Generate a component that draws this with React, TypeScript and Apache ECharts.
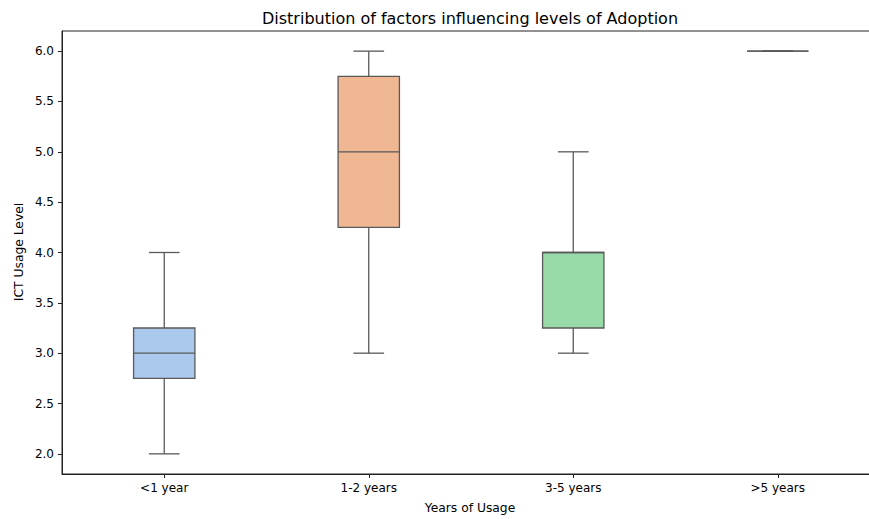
import React, { useEffect, useRef } from "react";
import * as echarts from "echarts";

const categories = ["<1 year", "1-2 years", "3-5 years", ">5 years"];
// [min, Q1, median, Q3, max]
const mins = [2.0, 3.0, 3.0, 6.0];
const q1s = [2.75, 4.25, 3.25, 6.0];
const medians = [3.0, 5.0, 4.0, 6.0];
const q3s = [3.25, 5.75, 4.0, 6.0];
const maxs = [4.0, 6.0, 5.0, 6.0];
const yTicks = [2.0, 2.5, 3.0, 3.5, 4.0, 4.5, 5.0, 5.5, 6.0];

const boxColors = ["#abc9ed", "#f0b793", "#98dba9", "#f2a9a6"];
const lineColor = "#595959";
const axisColor = "#222222";
const FONT = "DejaVu Sans";

export default function App() {
  const ref = useRef<HTMLDivElement>(null);
  useEffect(() => {
    if (!ref.current) return;
    const chart = echarts.init(ref.current, null, { renderer: "svg" });
    const data = categories.map((_, i) => [i, mins[i], q1s[i], medians[i], q3s[i], maxs[i]]);
    chart.setOption({
      animation: false,
      backgroundColor: "#ffffff",
      textStyle: { fontFamily: FONT },
      grid: {
        left: 62,
        top: 31,
        width: 818,
        height: 443,
        outerBoundsMode: "none",
        containLabel: false,
        show: true,
        borderColor: axisColor,
        borderWidth: 1,
        backgroundColor: "transparent",
      },
      graphic: [
        {
          type: "text",
          x: 470,
          y: 18,
          style: {
            text: "Distribution of factors influencing levels of Adoption",
            font: `16px "${FONT}"`,
            fill: "#000",
            textAlign: "center",
            textVerticalAlign: "middle",
          },
        },
        {
          type: "text",
          x: 470,
          y: 508,
          style: {
            text: "Years of Usage",
            font: `12.3px "${FONT}"`,
            fill: "#000",
            textAlign: "center",
            textVerticalAlign: "middle",
          },
        },
        {
          type: "text",
          x: 19,
          y: 252,
          rotation: Math.PI / 2,
          style: {
            text: "ICT Usage Level",
            font: `12.3px "${FONT}"`,
            fill: "#000",
            textAlign: "center",
            textVerticalAlign: "middle",
          },
        },
      ],
      xAxis: {
        type: "category",
        data: categories,
        boundaryGap: true,
        axisLine: { show: true, lineStyle: { color: axisColor, width: 1 } },
        axisTick: { show: true, alignWithLabel: true, length: 4, lineStyle: { color: axisColor } },
        axisLabel: { color: "#000", fontSize: 12, fontFamily: FONT, margin: 8 },
        splitLine: { show: false },
      },
      yAxis: {
        type: "value",
        min: 1.8,
        max: 6.2,
        axisLine: { show: true, lineStyle: { color: axisColor, width: 1 } },
        axisTick: { show: true, length: 4, customValues: yTicks, lineStyle: { color: axisColor } },
        axisLabel: {
          color: "#000",
          fontSize: 12,
          fontFamily: FONT,
          margin: 8,
          customValues: yTicks,
          formatter: (v: number) => v.toFixed(1),
        },
        splitLine: { show: false },
      },
      series: [
        {
          type: "custom",
          data,
          encode: { x: 0, y: [1, 2, 3, 4, 5] },
          renderItem: (params: any, api: any) => {
            const xi = api.value(0);
            const lo = api.coord([xi, api.value(1)]);
            const q1 = api.coord([xi, api.value(2)]);
            const md = api.coord([xi, api.value(3)]);
            const q3 = api.coord([xi, api.value(4)]);
            const hi = api.coord([xi, api.value(5)]);
            const band = api.size([1, 0])[0];
            const bw = band * 0.3;
            const cw = bw / 2;
            const cx = lo[0];
            const ls = { stroke: lineColor, lineWidth: 1.3, fill: "none" };
            return {
              type: "group",
              children: [
                { type: "line", shape: { x1: cx, y1: q1[1], x2: cx, y2: lo[1] }, style: ls },
                { type: "line", shape: { x1: cx, y1: q3[1], x2: cx, y2: hi[1] }, style: ls },
                { type: "line", shape: { x1: cx - cw / 2, y1: lo[1], x2: cx + cw / 2, y2: lo[1] }, style: ls },
                { type: "line", shape: { x1: cx - cw / 2, y1: hi[1], x2: cx + cw / 2, y2: hi[1] }, style: ls },
                {
                  type: "rect",
                  shape: { x: cx - bw / 2, y: q3[1], width: bw, height: q1[1] - q3[1] },
                  style: { fill: boxColors[params.dataIndex], stroke: lineColor, lineWidth: 1.3 },
                },
                { type: "line", shape: { x1: cx - bw / 2, y1: md[1], x2: cx + bw / 2, y2: md[1] }, style: ls },
              ],
            };
          },
        },
      ],
    });
    return () => chart.dispose();
  }, []);
  return (
    <div
      ref={ref}
      style={{ position: "absolute", left: 0, top: 0, width: 869, height: 519, overflow: "hidden" }}
    />
  );
}
